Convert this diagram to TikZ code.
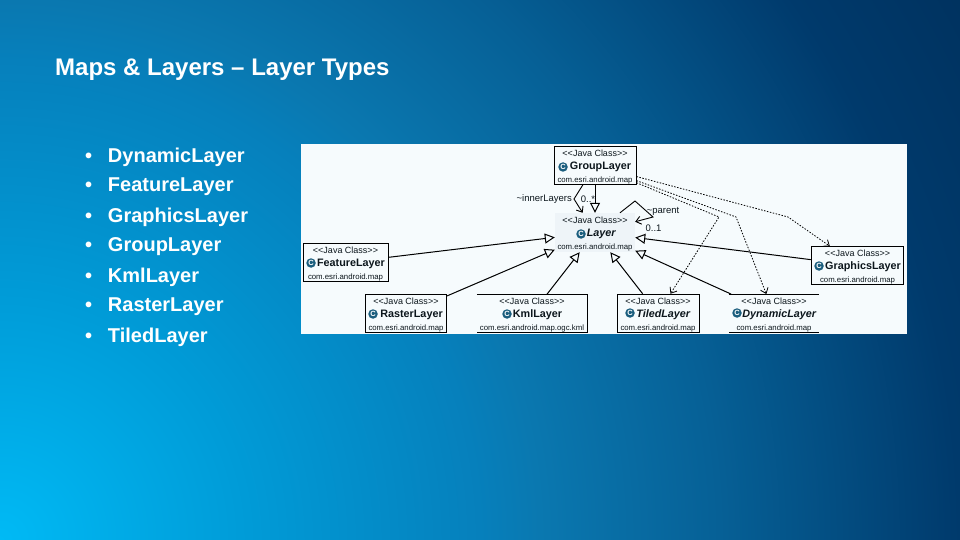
\documentclass[tikz,border=0pt]{standalone}
\usepackage{fontspec}
\setmainfont{Liberation Sans}
\usetikzlibrary{arrows.meta,positioning}
\definecolor{panel}{HTML}{F6FBFD}
\definecolor{layerfill}{HTML}{EEF4F8}
\definecolor{iconblue}{HTML}{1B5E7E}
\definecolor{ink}{HTML}{0C161C}
\definecolor{backa}{RGB}{0,186,245}
\definecolor{backb}{RGB}{0,156,216}
\definecolor{backc}{RGB}{6,128,188}
\definecolor{backd}{RGB}{10,120,176}
\definecolor{backe}{RGB}{6,96,150}
\definecolor{backf}{RGB}{0,58,108}
\definecolor{backg}{RGB}{0,50,95}
\pgfdeclareradialshading{slideback}{\pgfpoint{0bp}{0bp}}{%
    color(0bp)=(backa);
    color(5.4bp)=(backb);
    color(10.8bp)=(backc);
    color(12.15bp)=(backd);
    color(16.2bp)=(backe);
    color(21.6bp)=(backf);
    color(25bp)=(backg);
    color(50bp)=(backg)}
\tikzset{
    bullet item/.style={text width=175pt,inner sep=0pt,text=white,font=\fontsize{20}{24}\selectfont\bfseries,align=left},
    class node/.style={rectangle,inner sep=0pt,text=ink,align=center,font=\fontsize{9}{13}\selectfont},
    boxed/.style={class node,draw=black,line width=1pt,fill=panel},
    class icon/.style={circle,fill=iconblue,text=white,inner sep=0pt,minimum size=9.5pt,font=\fontsize{7.5}{8}\selectfont\bfseries},
    inherit/.style={line width=1pt,-{Triangle[open,fill=panel,length=10pt,width=10pt]}},
    assoc/.style={line width=0.9pt,-{Straight Barb[length=5pt,width=8pt]}},
    depend/.style={line width=0.8pt,dash pattern=on 1.5pt off 1.5pt,-{Straight Barb[length=5pt,width=8pt,line width=0.8pt]}},
    tag/.style={inner sep=0pt,text=ink,font=\fontsize{9.5}{11}\selectfont}
}
\newcommand{\classtext}[3]{{\fontsize{9}{13}\selectfont\rule{0pt}{10pt}#1}\\{\fontsize{10.8}{14}\selectfont\hspace{11pt}#2}\\{\fontsize{7.8}{12}\selectfont #3}}
\begin{document}
\begin{tikzpicture}[x=1pt,y=-1pt,node distance=30pt]
    \useasboundingbox (0,0) rectangle (960,540);
    \clip (0,0) rectangle (960,540);
    \shade[shading=slideback] (0,540) circle[radius=1110pt];

    \node[anchor=west,inner sep=0pt,text=white,font=\fontsize{24}{28}\selectfont\bfseries] (title) at (55,70) {Maps \& Layers -- Layer Types};

    % bullet list
    \node[bullet item] (b1) at (172.5,157) {\makebox[23pt][l]{•}DynamicLayer};
    \node[bullet item] (b2) [below of=b1] {\makebox[23pt][l]{•}FeatureLayer};
    \node[bullet item] (b3) [below of=b2] {\makebox[23pt][l]{•}GraphicsLayer};
    \node[bullet item] (b4) [below of=b3] {\makebox[23pt][l]{•}GroupLayer};
    \node[bullet item] (b5) [below of=b4] {\makebox[23pt][l]{•}KmlLayer};
    \node[bullet item] (b6) [below of=b5] {\makebox[23pt][l]{•}RasterLayer};
    \node[bullet item] (b7) [below of=b6] {\makebox[23pt][l]{•}TiledLayer};

    \fill[panel] (301,144) rectangle (907,334);

    % classes
    \node[boxed,minimum width=82pt,minimum height=38pt] (group) at (595,165.5) {\classtext{<{}<Java Class>{}>}{\textbf{GroupLayer}}{com.esri.android.map}};
    \node[class node,fill=layerfill,minimum width=80pt,minimum height=39pt] (layer) at (595,232.5) {\classtext{<{}<Java Class>{}>}{\hspace{2pt}\textbf{\textit{Layer}}}{com.esri.android.map}};
    \node[boxed,minimum width=85pt,minimum height=38.5pt] (feature) at (345.5,262.5) {\classtext{<{}<Java Class>{}>}{\textbf{FeatureLayer}}{com.esri.android.map}};
    \node[boxed,minimum width=92.5pt,minimum height=37.5pt] (graphics) at (857.5,265.5) {\classtext{<{}<Java Class>{}>}{\textbf{GraphicsLayer}}{com.esri.android.map}};
    \node[boxed,minimum width=81pt,minimum height=38.5pt] (raster) at (406,313.5) {\classtext{<{}<Java Class>{}>}{\textbf{RasterLayer}}{com.esri.android.map}};
    \node[class node,minimum width=110pt,minimum height=38.5pt] (kml) at (532,313.5) {\classtext{<{}<Java Class>{}>}{\textbf{KmlLayer}}{com.esri.android.map.ogc.kml}};
    \node[boxed,minimum width=82pt,minimum height=38.5pt] (tiled) at (658,313.5) {\classtext{<{}<Java Class>{}>}{\textbf{\textit{TiledLayer}}}{com.esri.android.map}};
    \node[class node,minimum width=90pt,minimum height=38.5pt] (dynamic) at (774,313.5) {\classtext{<{}<Java Class>{}>}{\textbf{\textit{DynamicLayer}}}{com.esri.android.map}};
    \draw[line width=1pt] (kml.north west) -- (kml.north east) -- (kml.south east) -- (kml.south west);
    \draw[line width=1pt] (dynamic.north west) -- (dynamic.north east);
    \draw[line width=1pt] (dynamic.south west) -- (dynamic.south east);

    % class icons
    \node[class icon] (groupicon) at (563,167) {C};
    \node[class icon] (layericon) at (581,234) {C};
    \node[class icon] (featureicon) at (311,263) {C};
    \node[class icon] (graphicsicon) at (819,266) {C};
    \node[class icon] (rastericon) at (373,314) {C};
    \node[class icon] (kmlicon) at (507,314) {C};
    \node[class icon] (tiledicon) at (630,313) {C};
    \node[class icon] (dynamicicon) at (737,313) {C};

    % bends of the connectors
    \coordinate (innerbend) at (574,199);
    \coordinate (loopa) at (635,201);
    \coordinate (loopb) at (653,217);
    \coordinate (tograph) at (788,217);
    \coordinate (todyn) at (736,217);
    \coordinate (totiled) at (719,217);

    \path[inherit]
        (feature) edge (layer)
        (raster) edge (layer)
        (kml) edge (layer)
        (tiled) edge (layer)
        (dynamic) edge (layer)
        (graphics) edge (layer)
        (group) edge (layer);

    \draw[assoc] (group) -- (innerbend) -- (layer);
    \draw[assoc] (layer) -- (loopa) -- (loopb) -- (layer);

    \draw[depend] (group) -- (tograph) -- (graphics);
    \draw[depend] (group) -- (todyn) -- (dynamic);
    \draw[depend] (group) -- (totiled) -- (tiled);

    \node[tag,anchor=east] (innertag) at (572,199) {\textasciitilde innerLayers};
    \node[tag] (innercount) at (588,199) {0..*};
    \node[tag] (parenttag) at (663,211) {\textasciitilde parent};
    \node[tag] (parentcount) at (653.5,228) {0..1};
\end{tikzpicture}
\end{document}
